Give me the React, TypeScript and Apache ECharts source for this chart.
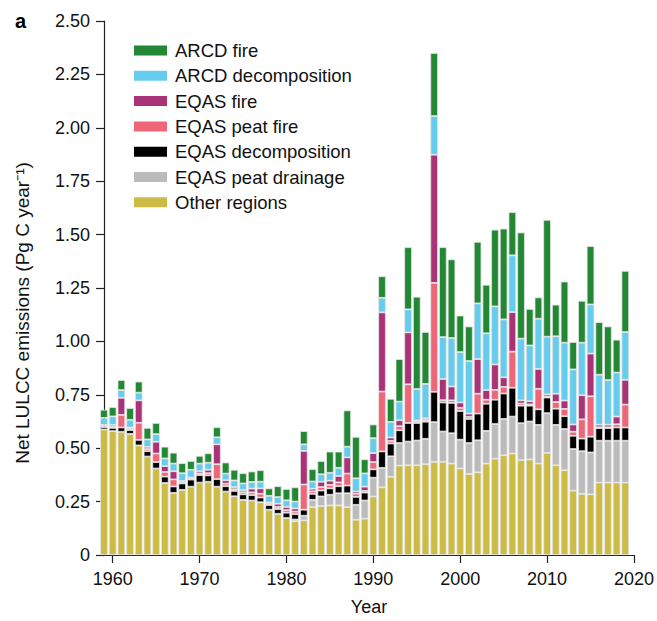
import React, { useEffect, useRef } from 'react';
import * as echarts from 'echarts';

const years = [
  1959, 1960, 1961, 1962, 1963, 1964, 1965, 1966, 1967, 1968, 1969, 1970, 1971, 1972, 1973, 1974,
  1975, 1976, 1977, 1978, 1979, 1980, 1981, 1982, 1983, 1984, 1985, 1986, 1987, 1988, 1989, 1990,
  1991, 1992, 1993, 1994, 1995, 1996, 1997, 1998, 1999, 2000, 2001, 2002, 2003, 2004, 2005, 2006,
  2007, 2008, 2009, 2010, 2011, 2012, 2013, 2014, 2015, 2016, 2017, 2018, 2019,
];
// the axis runs on to 2020, one step past the last bar
const axisYears = [...years, 2020];

const otherRegions = [
  0.588, 0.58, 0.577, 0.567, 0.513, 0.461, 0.405, 0.337, 0.291, 0.305, 0.32, 0.339, 0.343, 0.32, 0.297, 0.275,
  0.258, 0.255, 0.247, 0.212, 0.193, 0.173, 0.158, 0.162, 0.224, 0.229, 0.232, 0.232, 0.224, 0.165, 0.17, 0.274,
  0.317, 0.366, 0.419, 0.42, 0.42, 0.425, 0.436, 0.436, 0.428, 0.405, 0.379, 0.387, 0.428, 0.451, 0.467, 0.475,
  0.444, 0.447, 0.428, 0.478, 0.42, 0.397, 0.301, 0.286, 0.284, 0.339, 0.339, 0.339, 0.339,
];

const eqasPeatDrainage = [
  0, 0, 0, 0, 0, 0, 0, 0, 0, 0, 0, 0, 0, 0, 0, 0,
  0, 0, 0, 0, 0, 0, 0.008, 0.022, 0.034, 0.045, 0.05, 0.057, 0.065, 0.07, 0.085, 0.088,
  0.091, 0.096, 0.105, 0.111, 0.116, 0.119, 0.186, 0.142, 0.142, 0.135, 0.145, 0.15, 0.153, 0.162, 0.17, 0.173,
  0.173, 0.178, 0.181, 0.186, 0.189, 0.193, 0.195, 0.2, 0.196, 0.196, 0.196, 0.196, 0.196,
];

const eqasDecomposition = [
  0.011, 0.015, 0.02, 0.018, 0.026, 0.025, 0.03, 0.03, 0.03, 0.03, 0.033, 0.035, 0.03, 0.035, 0.025, 0.025,
  0.026, 0.025, 0.022, 0.022, 0.022, 0.025, 0.025, 0.028, 0.028, 0.028, 0.03, 0.033, 0.036, 0.037, 0.037, 0.039,
  0.077, 0.06, 0.06, 0.087, 0.082, 0.08, 0.142, 0.136, 0.142, 0.134, 0.113, 0.125, 0.127, 0.114, 0.119, 0.135,
  0.082, 0.074, 0.073, 0.073, 0.076, 0.06, 0.062, 0.059, 0.074, 0.059, 0.059, 0.062, 0.062,
];

const eqasPeatFire = [
  0.005, 0.006, 0.059, 0.006, 0.08, 0.01, 0.04, 0.022, 0.033, 0.006, 0.005, 0.008, 0.01, 0.07, 0.012, 0.008,
  0.01, 0.013, 0.018, 0.006, 0.01, 0.012, 0.012, 0.118, 0.012, 0.016, 0.016, 0.018, 0.056, 0.015, 0.008, 0.034,
  0.28, 0.012, 0.019, 0.181, 0.006, 0.008, 0.51, 0.011, 0.012, 0.015, 0.01, 0.093, 0.019, 0.046, 0.031, 0.169,
  0.01, 0.006, 0.096, 0.005, 0.031, 0.034, 0.019, 0.09, 0.189, 0.004, 0.004, 0.015, 0.107,
];

const eqasFire = [
  0.005, 0.008, 0.08, 0.006, 0.105, 0.01, 0.055, 0.027, 0.038, 0.006, 0.005, 0.01, 0.016, 0.093, 0.016, 0.01,
  0.01, 0.018, 0.025, 0.006, 0.015, 0.015, 0.015, 0.157, 0.012, 0.025, 0.02, 0.03, 0.076, 0.01, 0.02, 0.042,
  0.371, 0.016, 0.028, 0.243, 0.006, 0.008, 0.6, 0.099, 0.065, 0.025, 0.015, 0.162, 0.045, 0.119, 0.045, 0.185,
  0.015, 0.015, 0.093, 0.01, 0.039, 0.039, 0.034, 0.113, 0.2, 0.012, 0.012, 0.036, 0.116,
];

const arcdDecomposition = [
  0.033, 0.04, 0.036, 0.036, 0.036, 0.035, 0.036, 0.036, 0.036, 0.036, 0.036, 0.036, 0.033, 0.033, 0.031, 0.031,
  0.031, 0.031, 0.031, 0.031, 0.031, 0.031, 0.032, 0.031, 0.034, 0.035, 0.037, 0.038, 0.05, 0.062, 0.062, 0.07,
  0.068, 0.073, 0.087, 0.108, 0.147, 0.161, 0.181, 0.196, 0.227, 0.236, 0.246, 0.261, 0.266, 0.272, 0.271, 0.266,
  0.289, 0.261, 0.235, 0.27, 0.269, 0.271, 0.258, 0.246, 0.23, 0.234, 0.209, 0.206, 0.224,
];

const arcdFire = [
  0.038, 0.043, 0.047, 0.055, 0.052, 0.054, 0.052, 0.055, 0.051, 0.047, 0.041, 0.036, 0.044, 0.047, 0.052, 0.05,
  0.048, 0.049, 0.054, 0.035, 0.051, 0.053, 0.067, 0.062, 0.058, 0.062, 0.099, 0.076, 0.17, 0.194, 0.066, 0.064,
  0.101, 0.108, 0.199, 0.291, 0.432, 0.243, 0.295, 0.421, 0.368, 0.171, 0.162, 0.288, 0.227, 0.359, 0.425, 0.202,
  0.497, 0.171, 0.1, 0.547, 0.148, 0.286, 0.128, 0.196, 0.273, 0.246, 0.251, 0.154, 0.286,
];

// bottom to top
const seriesDefs = [
  { name: 'Other regions', values: otherRegions, color: '#ccbb44' },
  { name: 'EQAS peat drainage', values: eqasPeatDrainage, color: '#bbbbbb' },
  { name: 'EQAS decomposition', values: eqasDecomposition, color: '#000000' },
  { name: 'EQAS peat fire', values: eqasPeatFire, color: '#ee6677' },
  { name: 'EQAS fire', values: eqasFire, color: '#aa3377' },
  { name: 'ARCD decomposition', values: arcdDecomposition, color: '#66ccee' },
  { name: 'ARCD fire', values: arcdFire, color: '#228833' },
];

const FONT = '"Liberation Sans", Arial, sans-serif';
const isDecade = (_i: number, v: string) => Number(v) % 10 === 0;

const App: React.FC = () => {
  const chartRef = useRef<HTMLDivElement | null>(null);

  useEffect(() => {
    document.body.style.margin = '0';
    if (!chartRef.current) return;
    const chart = echarts.init(chartRef.current, undefined, { renderer: 'svg' });

    const option = {
      animation: false,
      textStyle: { fontFamily: FONT },
      grid: { left: 104, right: 23, top: 21, bottom: 61, containLabel: false },
      legend: {
        orient: 'vertical',
        left: 129,
        top: 36,
        itemWidth: 33,
        itemHeight: 10,
        itemGap: 6.3,
        icon: 'rect',
        itemStyle: { borderWidth: 0 },
        textStyle: { fontSize: 18.5, color: '#111', fontFamily: FONT, padding: [0, 0, 0, 3], lineHeight: 18 },
        data: [...seriesDefs].reverse().map((s) => s.name),
      },
      graphic: [
        {
          type: 'text',
          left: 15,
          top: 11,
          style: { text: 'a', font: `bold 20px ${FONT}`, fill: '#000' },
        },
      ],
      xAxis: {
        type: 'category',
        data: axisYears.map(String),
        boundaryGap: false,
        name: 'Year',
        nameLocation: 'middle',
        nameGap: 43,
        nameTextStyle: { fontSize: 18, color: '#111', fontFamily: FONT },
        splitLine: { show: false },
        axisLine: { show: true, lineStyle: { color: '#222', width: 1.2 } },
        axisTick: { show: true, length: 8, interval: isDecade, lineStyle: { color: '#222', width: 1.2 } },
        axisLabel: { interval: isDecade, fontSize: 18, color: '#111', margin: 15, fontFamily: FONT },
      },
      yAxis: {
        type: 'value',
        min: 0,
        max: 2.5,
        interval: 0.25,
        name: 'Net LULCC emissions (Pg C year\u207B\u00B9)',
        nameLocation: 'middle',
        nameGap: 72,
        nameTextStyle: { fontSize: 19, color: '#111', fontFamily: FONT, padding: [0, 50, 0, 0] },
        splitLine: { show: false },
        axisLine: { show: true, lineStyle: { color: '#222', width: 1.2 } },
        axisTick: { show: true, length: 8, lineStyle: { color: '#222', width: 1.2 } },
        axisLabel: {
          fontSize: 18,
          color: '#111',
          margin: 14,
          fontFamily: FONT,
          formatter: (v: number) => (v === 0 ? '0' : v.toFixed(2)),
        },
      },
      series: seriesDefs.map((s) => ({
        name: s.name,
        type: 'bar',
        stack: 'total',
        barWidth: 7.6,
        clip: true,
        data: s.values,
        itemStyle: { color: s.color, borderColor: '#e4e4e4', borderWidth: 0.8 },
        emphasis: { disabled: true },
      })),
    };

    chart.setOption(option);
    return () => {
      chart.dispose();
    };
  }, []);

  return <div ref={chartRef} style={{ width: 657, height: 621 }} />;
};

export default App;
